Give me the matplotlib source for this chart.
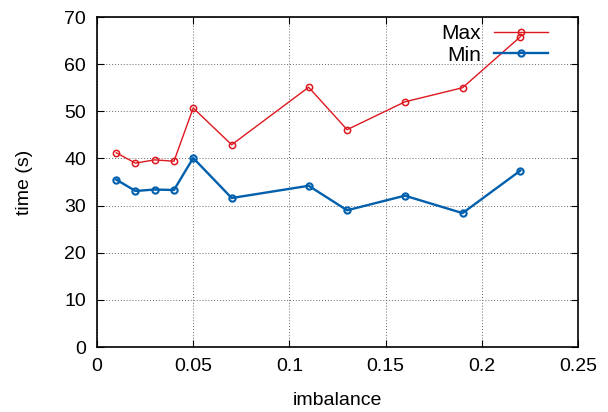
import matplotlib
matplotlib.use("Agg")
import matplotlib.pyplot as plt

plt.rcParams['font.family'] = ['Liberation Sans', 'DejaVu Sans']

imbalance = [0.01, 0.02, 0.03, 0.04, 0.05, 0.07, 0.11, 0.13, 0.16, 0.19, 0.22]
t_max = [41.2, 39.0, 39.7, 39.4, 50.7, 42.9, 55.1, 46.1, 52.0, 55.0, 65.8]
t_min = [35.5, 33.1, 33.4, 33.3, 40.1, 31.6, 34.2, 29.0, 32.1, 28.4, 37.4]

fig = plt.figure(figsize=(6.08, 4.12), dpi=100)
ax = fig.add_axes([97 / 608, 65 / 412, 481 / 608, 330 / 412])

ax.plot(imbalance, t_max, color='#dd181f', lw=1.0, marker='o', ms=4.5,
        mfc='none', mew=1.1, label='Max')
ax.plot(imbalance, t_min, color='#0060ad', lw=1.7, marker='o', ms=4.5,
        mfc='none', mew=1.5, label='Min')

ax.set_xlim(0, 0.25)
ax.set_ylim(0, 70)
ax.set_xticks([0, 0.05, 0.1, 0.15, 0.2, 0.25])
ax.set_xticklabels(['0', '0.05', '0.1', '0.15', '0.2', '0.25'])
ax.set_yticks(range(0, 71, 10))
ax.grid(True, color='#666666', ls=(0, (1, 2)), lw=0.7)
ax.tick_params(direction='in', top=True, right=True, labelsize=14, length=5,
               pad=8)
for s in ax.spines.values():
    s.set_linewidth(1.2)

ax.set_xlabel('imbalance', fontsize=14, labelpad=12)
ax.set_ylabel('time (s)', fontsize=14, labelpad=22)

ax.legend(loc='upper right', frameon=False, markerfirst=False, fontsize=15,
          handlelength=2.6, handletextpad=0.6, labelspacing=0.12,
          borderaxespad=0.0, bbox_to_anchor=(0.955, 1.004))

fig.savefig('out.png', dpi=100)
